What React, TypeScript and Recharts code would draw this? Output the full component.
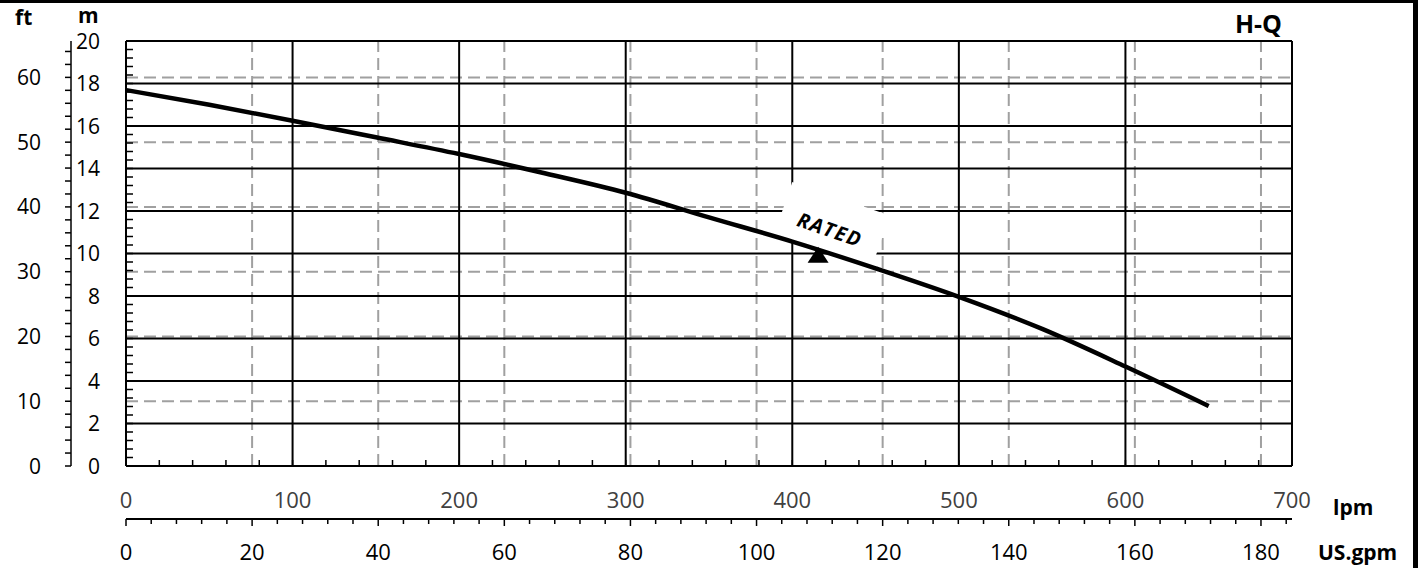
import React from "react";
import {
  ComposedChart,
  Line,
  Scatter,
  XAxis,
  YAxis,
  ReferenceLine,
  ReferenceDot,
} from "recharts";

// H-Q curve (flow in lpm, head in m)
const FLOW_LPM = [0, 50, 100, 150, 200, 250, 300, 350, 400, 450, 500, 550, 600, 650];
const HEAD_M = [17.69, 17.0, 16.25, 15.47, 14.68, 13.8, 12.86, 11.7, 10.56, 9.3, 7.96, 6.45, 4.68, 2.82];

// rated point (triangle) and where its label sits
const RATED_LPM = [415.5];
const RATED_M = [9.94];
const RATED_LABEL_AT = [422.5, 11.12];

// tick labels
const M_LABELS = [0, 2, 4, 6, 8, 10, 12, 14, 16, 18, 20];
const FT_LABELS = [0, 10, 20, 30, 40, 50, 60];
const LPM_LABELS = [0, 100, 200, 300, 400, 500, 600, 700];
const GPM_LABELS = [0, 20, 40, 60, 80, 100, 120, 140, 160, 180];

// grid
const M_GRID = [2, 4, 6, 8, 10, 12, 14, 16, 18];
const LPM_GRID = [100, 200, 300, 400, 500, 600];
const FT_GRID = [10, 20, 30, 40, 50, 60];
const GPM_GRID = [20, 40, 60, 80, 100, 120, 140, 160, 180];

const M_MAX = 20;
const LPM_MAX = 700;
const M_PER_FT = 0.3048;
const LPM_PER_GPM = 3.785411784;
const FT_MAX = M_MAX / M_PER_FT;
const GPM_MAX = LPM_MAX / LPM_PER_GPM;

// minor tick positions
const steps = (max: number, step: number) =>
  Array.from({ length: Math.floor(max / step + 1e-6) + 1 }, (_, i) => Math.round(i * step * 1000) / 1000);

const M_TICKS = steps(M_MAX, 0.4);
const FT_TICKS = steps(FT_MAX, 2);
const LPM_TICKS = steps(LPM_MAX, 20);
const GPM_TICKS = steps(GPM_MAX, 4);

const curveData = FLOW_LPM.map((q, i) => ({ q, gpm: q / LPM_PER_GPM, h: HEAD_M[i] }));
const ratedData = RATED_LPM.map((q, i) => ({ q, gpm: q / LPM_PER_GPM, h: RATED_M[i] }));

// axis ids: recharts puts the alphabetically first id next to the plot
const X_LPM = "1lpm";
const X_GPM = "2gpm";
const Y_M = "1m";
const Y_FT = "2ft";

const NUM_FONT = "'Open Sans', sans-serif";
const GRID_DASH = "12 6";
const DASH_COLOR = "#a0a0a0";

const M_GAP = 26;
const LPM_GAP = 34;
const GPM_GAP = 33;

function MTick(props: any) {
  const { x, y, payload } = props;
  const axisX = x + M_GAP;
  const v = payload.value;
  return (
    <g>
      <line x1={axisX} x2={axisX + 7} y1={y} y2={y} stroke="#000" strokeWidth={1.5} />
      {M_LABELS.includes(v) && (
        <text x={x} y={y} dy="0.36em" textAnchor="end" fontSize={21} fontFamily={NUM_FONT} fill="#000">
          {v}
        </text>
      )}
    </g>
  );
}

function FtTick(props: any) {
  const { x, y, payload } = props;
  const v = payload.value;
  if (!FT_LABELS.includes(v)) return <g />;
  return (
    <text x={x} y={y} dy="0.36em" textAnchor="end" fontSize={21} fontFamily={NUM_FONT} fill="#000">
      {v}
    </text>
  );
}

function LpmTick(props: any) {
  const { x, y, payload } = props;
  const axisY = y - LPM_GAP;
  const v = payload.value;
  return (
    <g>
      <line x1={x} x2={x} y1={axisY} y2={axisY - 6} stroke="#000" strokeWidth={1.5} />
      {LPM_LABELS.includes(v) && (
        <text x={x} y={y} dy="0.36em" textAnchor="middle" fontSize={22} fontFamily={NUM_FONT} fill="#404040">
          {v}
        </text>
      )}
    </g>
  );
}

function GpmTick(props: any) {
  const { x, y, payload } = props;
  const axisY = y - GPM_GAP;
  const v = payload.value;
  const major = GPM_LABELS.includes(v);
  return (
    <g>
      <line x1={x} x2={x} y1={axisY} y2={axisY + (major ? 7 : 5)} stroke="#000" strokeWidth={1.5} />
      {major && (
        <text x={x} y={y} dy="0.36em" textAnchor="middle" fontSize={22} fontFamily={NUM_FONT} fill="#000">
          {v}
        </text>
      )}
    </g>
  );
}

// white label box, turned with the text, masks the grid under it
function RatedLabel(props: any) {
  const { cx, cy } = props;
  return (
    <g transform={`translate(${cx},${cy}) rotate(19)`}>
      <rect x={-51} y={-33} width={103} height={56} fill="#fff" />
      <text
        x={0}
        y={0}
        dy="0.36em"
        textAnchor="middle"
        fontSize={20}
        fontWeight={700}
        fontStyle="italic"
        letterSpacing={1.5}
        fontFamily={NUM_FONT}
        fill="#000"
      >
        RATED
      </text>
    </g>
  );
}

function Triangle(props: any) {
  const { cx, cy } = props;
  return <polygon points={`${cx},${cy - 8} ${cx - 10.5},${cy + 8} ${cx + 10.5},${cy + 8}`} fill="#000" />;
}

export default function App() {
  const W = 1418;
  const H = 568;
  return (
    <div style={{ position: "absolute", left: 0, top: 0, width: W, height: H, background: "#fff", overflow: "hidden" }}>
      <ComposedChart width={W} height={H} data={curveData} margin={{ top: 41, right: 126, bottom: 0, left: 0 }}>
        <XAxis
          xAxisId={X_LPM}
          dataKey="q"
          type="number"
          domain={[0, LPM_MAX]}
          ticks={LPM_TICKS}
          interval={0}
          height={53}
          tickSize={0}
          tickMargin={LPM_GAP}
          tickLine={false}
          axisLine={{ stroke: "#000", strokeWidth: 2 }}
          tick={(p: any) => <LpmTick {...p} />}
          allowDataOverflow
        />
        <XAxis
          xAxisId={X_GPM}
          dataKey="gpm"
          type="number"
          domain={[0, GPM_MAX]}
          ticks={GPM_TICKS}
          interval={0}
          height={49}
          tickSize={0}
          tickMargin={GPM_GAP}
          tickLine={false}
          axisLine={{ stroke: "#000", strokeWidth: 2 }}
          tick={(p: any) => <GpmTick {...p} />}
          allowDataOverflow
        />
        <YAxis
          yAxisId={Y_M}
          type="number"
          domain={[0, M_MAX]}
          ticks={M_TICKS}
          interval={0}
          width={55}
          tickSize={0}
          tickMargin={M_GAP}
          tickLine={false}
          axisLine={{ stroke: "#000", strokeWidth: 2 }}
          tick={(p: any) => <MTick {...p} />}
          allowDataOverflow
        />
        <YAxis
          yAxisId={Y_FT}
          type="number"
          domain={[0, FT_MAX]}
          ticks={FT_TICKS}
          interval={0}
          width={71}
          tickSize={6}
          tickMargin={24}
          tickLine={{ stroke: "#000", strokeWidth: 1.5 }}
          axisLine={{ stroke: "#000", strokeWidth: 1.5 }}
          tick={(p: any) => <FtTick {...p} />}
          allowDataOverflow
        />

        {FT_GRID.map((v) => (
          <ReferenceLine key={`ft${v}`} xAxisId={X_LPM} yAxisId={Y_FT} y={v} stroke={DASH_COLOR} strokeWidth={2} strokeDasharray={GRID_DASH} zIndex={300} />
        ))}
        {GPM_GRID.map((v) => (
          <ReferenceLine key={`gpm${v}`} xAxisId={X_GPM} yAxisId={Y_M} x={v} stroke={DASH_COLOR} strokeWidth={2} strokeDasharray={GRID_DASH} zIndex={300} />
        ))}
        {M_GRID.map((v) => (
          <ReferenceLine key={`m${v}`} xAxisId={X_LPM} yAxisId={Y_M} y={v} stroke="#000" strokeWidth={2} zIndex={300} />
        ))}
        {LPM_GRID.map((v) => (
          <ReferenceLine key={`lpm${v}`} xAxisId={X_LPM} yAxisId={Y_M} x={v} stroke="#000" strokeWidth={2} zIndex={300} />
        ))}
        <ReferenceLine xAxisId={X_LPM} yAxisId={Y_M} y={M_MAX} stroke="#000" strokeWidth={2} zIndex={300} />
        <ReferenceLine xAxisId={X_LPM} yAxisId={Y_M} x={LPM_MAX} stroke="#000" strokeWidth={2} zIndex={300} />

        {/* label box sits over the grid but under the curve */}
        <ReferenceDot
          xAxisId={X_LPM}
          yAxisId={Y_M}
          x={RATED_LABEL_AT[0]}
          y={RATED_LABEL_AT[1]}
          r={0}
          zIndex={350}
          shape={(p: any) => <RatedLabel {...p} />}
        />

        <Line
          xAxisId={X_LPM}
          yAxisId={Y_M}
          dataKey="h"
          type="monotone"
          stroke="#000"
          strokeWidth={4.5}
          dot={false}
          activeDot={false}
          zIndex={400}
          isAnimationActive={false}
        />
        <Scatter
          xAxisId={X_LPM}
          yAxisId={Y_M}
          data={ratedData}
          dataKey="h"
          shape={(p: any) => <Triangle {...p} />}
          zIndex={600}
          isAnimationActive={false}
        />
      </ComposedChart>

      <svg width={W} height={H} style={{ position: "absolute", left: 0, top: 0, pointerEvents: "none" }}>
        <g fontFamily={NUM_FONT} fontWeight={700} fill="#000">
          <text x={15} y={25} fontSize={21}>ft</text>
          <text x={78} y={23} fontSize={21}>m</text>
          <text x={1282} y={33} fontSize={25} textAnchor="end">H-Q</text>
          <text x={1333} y={515} fontSize={21}>lpm</text>
          <text x={1318} y={560} fontSize={21}>US.gpm</text>
        </g>
        <rect x={0} y={0} width={W} height={3} fill="#000" />
        <rect x={1413} y={0} width={5} height={H} fill="#000" />
      </svg>
    </div>
  );
}
